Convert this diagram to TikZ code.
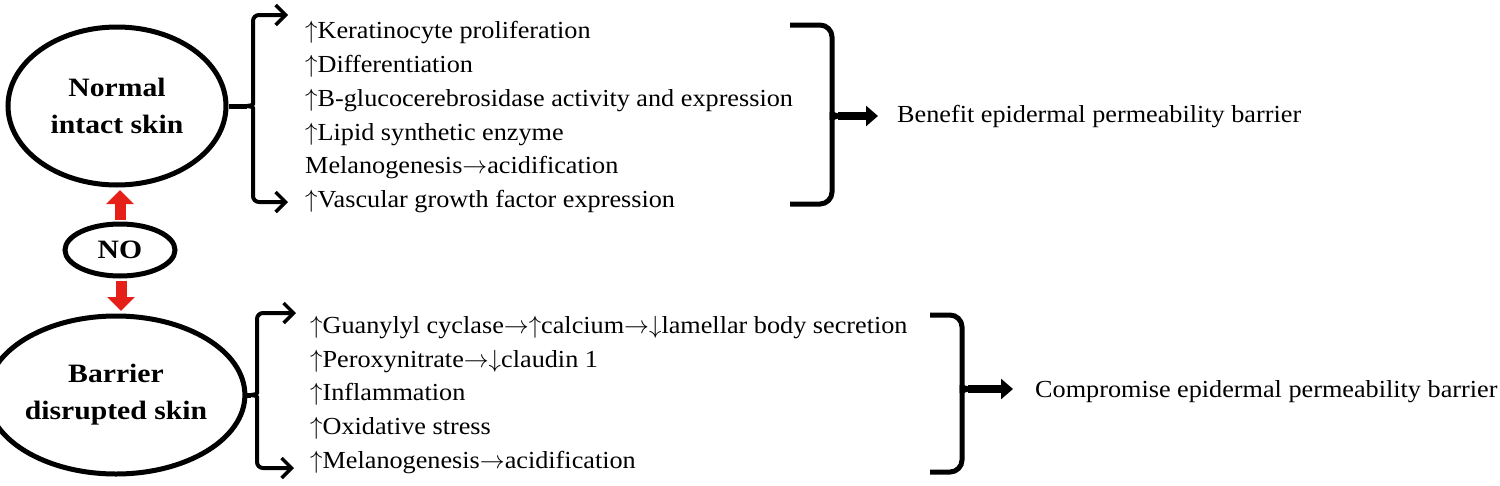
\documentclass[tikz,border=0pt]{standalone}
\usepackage{fontspec}
\setmainfont{Liberation Serif}[FakeStretch=1.07]
\newfontfamily\lblfont{Liberation Serif}[FakeStretch=1.12]
\usetikzlibrary{shapes.geometric,arrows.meta}
\definecolor{arrred}{RGB}{228,32,24}
\newcommand\myup{$\uparrow$}
\newcommand\mydn{$\downarrow$}
\newcommand\myto{$\rightarrow$}
\begin{document}
\begin{tikzpicture}[x=1pt,y=-1pt,
  oval/.style={ellipse,draw,line width=5pt,inner sep=0pt,align=center,font=\lblfont\bfseries\fontsize{26.5}{37}\selectfont},
  item/.style={anchor=base west,inner sep=0pt,font=\fontsize{24.5}{30}\selectfont},
  fork/.style={line width=4pt,rounded corners=6pt,-{Straight Barb[length=10pt,width=20pt,line width=3.5pt]}},
  stem/.style={line width=5pt},
  brace/.style={line width=5pt,rounded corners=12pt},
  fat/.style={line width=8pt,-{Triangle[length=12pt,width=20pt]}},
  redarrow/.style={arrred,line width=11pt,-{Triangle[length=14pt,width=27pt]}}]
\useasboundingbox (0,0) rectangle (1500,485);

% ovals
\node[oval,minimum width=218pt,minimum height=158pt] (normal) at (117,106) {Normal\\intact skin};
\node[oval,minimum width=110pt,minimum height=52pt] (no) at (120,250) {NO};
\node[oval,minimum width=218pt,minimum height=158pt] (barrier) at (116,395) {Barrier\\disrupted skin};

% red arrows
\draw[redarrow,shorten <=2pt,shorten >=2.5pt] (no.north) -- (no.north |- normal.south);
\draw[redarrow,shorten <=2pt,shorten >=2.5pt] ([xshift=1pt]no.south) -- ([xshift=1pt]no.south |- barrier.north);

% top list
\node[item] (a1) at (305,38) {\myup Keratinocyte proliferation};
\node[item] (a2) at (305,72) {\myup Differentiation};
\node[item] (a3) at (305,106) {\myup B-glucocerebrosidase activity and expression};
\node[item] (a4) at (305,140) {\myup Lipid synthetic enzyme};
\node[item] (a5) at (305,173) {Melanogenesis\myto acidification};
\node[item] (a6) at (305,207) {\myup Vascular growth factor expression};

% bottom list
\node[item] (b1) at (310,333) {\myup Guanylyl cyclase\myto\myup calcium\myto\mydn lamellar body secretion};
\node[item] (b2) at (310,367) {\myup Peroxynitrate\myto\mydn claudin 1};
\node[item] (b3) at (310,400) {\myup Inflammation};
\node[item] (b4) at (310,434) {\myup Oxidative stress};
\node[item] (b5) at (310,468) {\myup Melanogenesis\myto acidification};

% results
\node[item] (benefit) at (897,122) {Benefit epidermal permeability barrier};
\node[item] (comp) at (1035,397) {Compromise epidermal permeability barrier};

% left forks (top)
\coordinate (j1) at (247,106);
\draw[stem] (normal.east) -- (j1);
\coordinate (t1) at (288,15);
\coordinate (t2) at (288,202);
\draw[fork] (j1) .. controls (253,105) .. (253,98) -- (253,15) -- (t1);
\draw[fork] (j1) .. controls (253,107) .. (253,114) -- (253,202) -- (t2);

% left forks (bottom)
\coordinate (j2) at (251,395);
\draw[stem] (barrier.east) -- (j2);
\coordinate (u1) at (296,313);
\coordinate (u2) at (294,468);
\draw[fork] (j2) .. controls (257,394) .. (257,387) -- (257,313) -- (u1);
\draw[fork] (j2) .. controls (257,396) .. (257,403) -- (257,468) -- (u2);

% right braces
\coordinate (r1) at (790,25);
\coordinate (r2) at (790,204);
\coordinate (rj) at (838,116);
\draw[brace] (r1) -- (832,25) -- (832,108) .. controls (832,114) .. (rj);
\draw[brace] (rj) .. controls (832,118) .. (832,124) -- (832,204) -- (r2);
\draw[fat] (rj) -- ([xshift=-19pt]benefit.west |- rj);

\coordinate (s1) at (930,315);
\coordinate (s2) at (930,472);
\coordinate (sj) at (968,389);
\draw[brace] (s1) -- (962,315) -- (962,381) .. controls (962,387) .. (sj);
\draw[brace] (sj) .. controls (962,391) .. (962,397) -- (962,472) -- (s2);
\draw[fat] (sj) -- ([xshift=-22pt]comp.west |- sj);
\end{tikzpicture}
\end{document}
